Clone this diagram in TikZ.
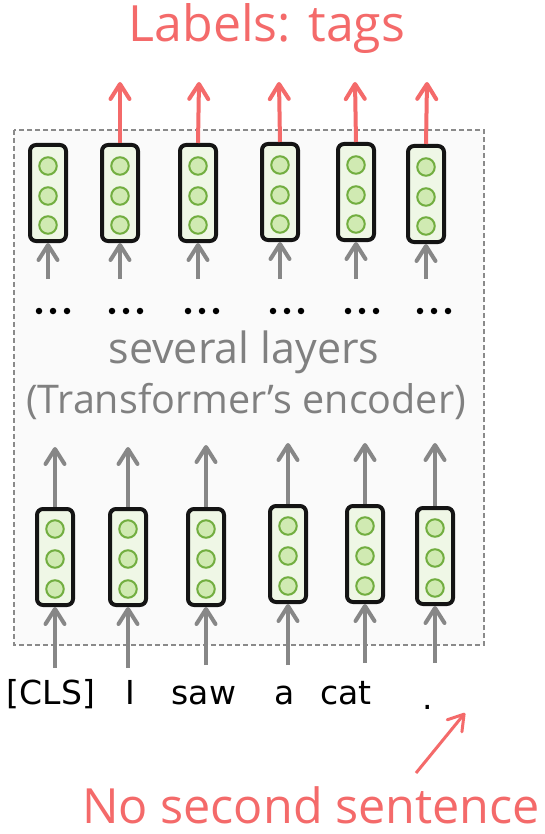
\documentclass[tikz,border=0pt]{standalone}
\usepackage{fontspec}
\setmainfont{Open Sans}
\newfontfamily\wordfont{DejaVu Sans}
\usetikzlibrary{arrows.meta}
\definecolor{redc}{HTML}{F46A6A}
\definecolor{greyc}{HTML}{878787}
\definecolor{greytext}{HTML}{808080}
\definecolor{boxfill}{HTML}{EFF7E6}
\definecolor{circfill}{HTML}{D0EAB2}
\definecolor{circline}{HTML}{72AE40}
\definecolor{boxline}{HTML}{141414}
\definecolor{dashc}{HTML}{8A8A8A}
\definecolor{panel}{HTML}{FAFAFA}
\begin{document}
\begin{tikzpicture}[x=1pt,y=-1pt,
  vecbox/.style={draw=boxline, line width=4pt, fill=boxfill, rounded corners=6pt,
    minimum width=36pt, minimum height=96pt, inner sep=0pt},
  unit/.style={circle, draw=circline, line width=2pt, fill=circfill,
    minimum size=17.5pt, inner sep=0pt},
  greyarrow/.style={draw=greyc, line width=4pt,
    -{Straight Barb[length=15pt,width=19pt,round]}},
  redarrow/.style={draw=redc, line width=4pt,
    -{Straight Barb[length=15pt,width=19pt,round]}},
  wordtxt/.style={font=\wordfont\fontsize{33}{33}\selectfont, anchor=base, inner sep=0pt},
  greytxt/.style={text=greytext, anchor=base, inner sep=0pt},
  redtxt/.style={text=redc, anchor=base, inner sep=0pt},
  dotmark/.style={circle, fill=black, minimum size=6.5pt, inner sep=0pt}
]
\useasboundingbox[fill=white] (0,0) rectangle (545,834);

% panel
\draw[draw=dashc, fill=panel, line width=1.3pt, dash pattern=on 5pt off 3pt] (14,130) rectangle (484,645);

% titles
\node[redtxt, font=\fontsize{50}{50}\selectfont] (labels) at (267,42) {Labels: tags};
\node[redtxt, font=\fontsize{48.5}{48.5}\selectfont] (nosecond) at (311,823) {No second sentence};

% grey texts
\node[greytxt, font=\fontsize{43}{43}\selectfont] (layers) at (244,363) {several layers};
\node[greytxt, font=\fontsize{39.5}{39.5}\selectfont] (encoder) at (246,413) {(Transformer’s encoder)};

% top row boxes
\foreach \i/\x/\y in {1/48/193, 2/120/193, 3/198/193, 4/280/192, 5/356/192, 6/426/194} {
  \node[vecbox] (t\i) at (\x,\y) {};
  \node[unit] (t\i a) at (\x,\y-27) {};
  \node[unit] (t\i b) at (\x,\y+3) {};
  \node[unit] (t\i c) at (\x,\y+32) {};
  \coordinate (tin\i) at (\x,279);
}
% red output arrows
\foreach \i/\x in {2/120, 3/199, 4/279, 5/355, 6/427} {
  \coordinate (out\i) at (\x,82);
  \draw[redarrow] (t\i.north) -- (out\i);
}
% grey arrows into top boxes
\foreach \i in {1,...,6} {
  \draw[greyarrow] (tin\i) -- (t\i.south);
}

% dots
\foreach \i/\x in {1/53, 2/126, 3/202, 4/287, 5/362, 6/434} {
  \node[dotmark] (d\i a) at (\x-14,311) {};
  \node[dotmark] (d\i b) at (\x,311) {};
  \node[dotmark] (d\i c) at (\x+14,311) {};
}

% bottom row boxes
\foreach \i/\x/\y/\ytop/\ybot in {1/55/557/447/668, 2/128/557/447/668, 3/206/557/445/665, 4/288/554/443/665, 5/365/554/443/663, 6/435/556/443/663} {
  \node[vecbox] (b\i) at (\x,\y) {};
  \node[unit] (b\i a) at (\x,\y-28) {};
  \node[unit] (b\i b) at (\x,\y+2) {};
  \node[unit] (b\i c) at (\x,\y+32) {};
  \coordinate (bup\i) at (\x,\ytop);
  \coordinate (bin\i) at (\x,\ybot);
  \draw[greyarrow] (b\i.north) -- (bup\i);
  \draw[greyarrow] (bin\i) -- (b\i.south);
}

% words
\node[wordtxt] (w1) at (51,704) {[CLS]};
\node[wordtxt] (w2) at (130,704) {I};
\node[wordtxt] (w3) at (204,704) {saw};
\node[wordtxt] (w4) at (285,704) {a};
\node[wordtxt] (w5) at (346,704) {cat};
\node[wordtxt] (w6) at (428,709) {.};

% pointer arrow
\coordinate (pstart) at (416,773);
\coordinate (pend) at (465,713);
\draw[redarrow, line width=3pt] (pstart) -- (pend);
\end{tikzpicture}
\end{document}
